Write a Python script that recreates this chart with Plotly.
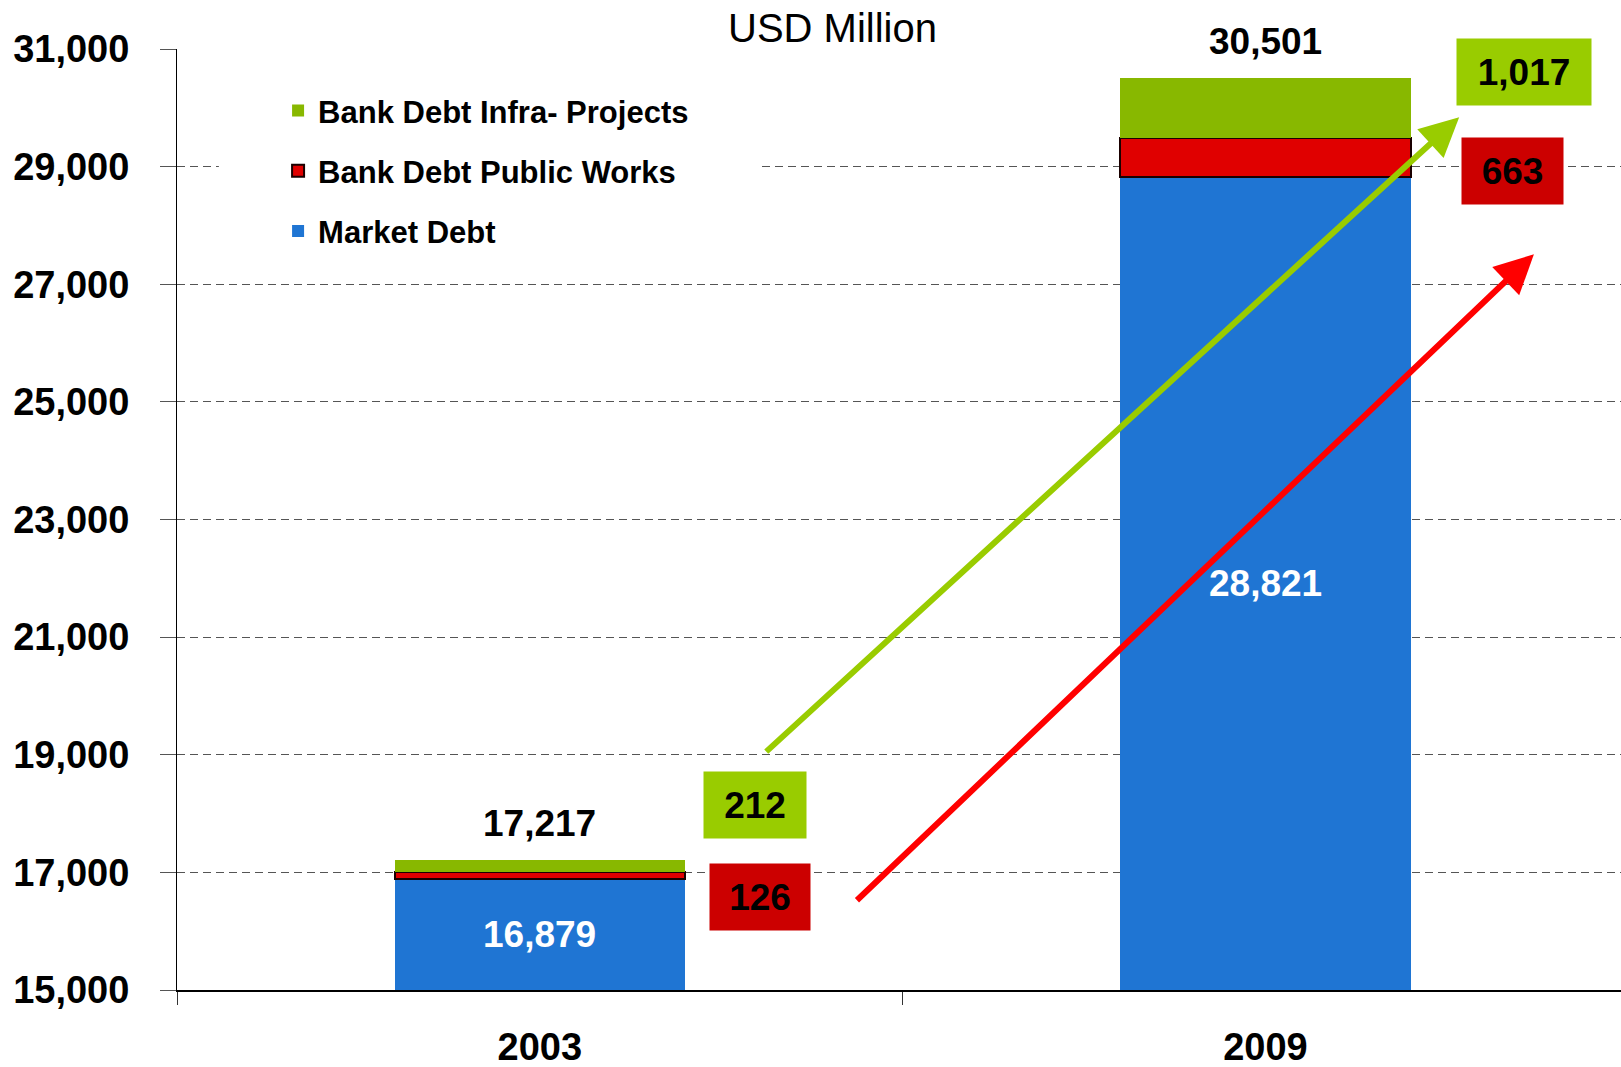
"""Stacked bar chart: debt composition 2003 vs 2009 (USD Million)."""

import plotly.graph_objects as go

# data
years = ['2003', '2009']
market_debt = [16879, 28821]
public_works = [126, 663]
infra_projects = [212, 1017]
totals = [m + p + i for m, p, i in zip(market_debt, public_works, infra_projects)]
y_ticks = list(range(15000, 31001, 2000))

Y_MIN, Y_MAX = 15000, 31000
FONT = 'Liberation Sans, Arial, sans-serif'
BLUE = '#1F75D3'
GREEN = '#88B800'
RED = '#E00000'

fig = go.Figure()

fig.add_trace(go.Bar(
    x=years, y=market_debt, name='Market Debt',
    marker=dict(color=BLUE, line=dict(width=0)),
    legendgroup='m', legendrank=3, width=0.4, hoverinfo='skip'
))
fig.add_trace(go.Bar(
    x=years, y=public_works, name='Bank Debt Public Works',
    marker=dict(color=RED, line=dict(color='#1a0000', width=2)),
    legendgroup='p', legendrank=2, width=0.4, hoverinfo='skip'
))
fig.add_trace(go.Bar(
    x=years, y=infra_projects, name='Bank Debt Infra- Projects',
    marker=dict(color=GREEN, line=dict(width=0)),
    legendgroup='i', legendrank=1, width=0.4, hoverinfo='skip'
))

# totals above the bars
for i, t in enumerate(totals):
    fig.add_annotation(
        x=i, y=t, text=f"{t:,}", showarrow=False,
        yanchor='bottom', yshift=14,
        font=dict(family=FONT, size=37, color='black', weight='bold')
    )

# market debt labels, centred in the visible part of the bar
for i, m in enumerate(market_debt):
    fig.add_annotation(
        x=i, y=(Y_MIN + m) / 2, text=f"{m:,}", showarrow=False,
        font=dict(family=FONT, size=37, color='white', weight='bold')
    )

# growth arrows (tip x, tip y, tail x, tail y)
arrows = [
    (1.267, 29838, 0.31, 19030, '#99CC00'),
    (1.37, 27510, 0.435, 16501, '#FF0000'),
]
for x, y, ax, ay, c in arrows:
    fig.add_annotation(
        x=x, y=y, ax=ax, ay=ay, xref='x', yref='y', axref='x', ayref='y',
        text='', showarrow=True, arrowhead=2, arrowsize=1.3,
        arrowwidth=6, arrowcolor=c, standoff=0
    )

# value boxes next to the bars
box_pos = {
    'infra': [(0.296, 18140), (1.357, 30611)],
    'public': [(0.303, 16577), (1.34, 28929)],
}
box_w = {'infra': [102, 134], 'public': [100, 101]}
for key, vals, bg in [('infra', infra_projects, '#99CC00'), ('public', public_works, '#CC0000')]:
    for i, v in enumerate(vals):
        bx, by = box_pos[key][i]
        fig.add_annotation(
            x=bx, y=by, text=f"{v:,}", showarrow=False,
            bgcolor=bg, width=box_w[key][i], height=66, borderpad=0,
            font=dict(family=FONT, size=37, color='black', weight='bold')
        )

# title
fig.add_annotation(
    x=0.454, y=1.022, xref='paper', yref='paper', text='USD Million',
    showarrow=False, yanchor='middle',
    font=dict(family=FONT, size=40, color='black')
)

# white patch behind the legend (hides the grid line there)
fig.add_shape(
    type='rect', xref='paper', yref='paper',
    x0=0.029, x1=0.405, y0=0.77, y1=0.985,
    fillcolor='white', line=dict(width=0), layer='above'
)

fig.update_layout(
    width=1621, height=1067,
    margin=dict(l=177, r=0, t=49, b=77),
    paper_bgcolor='white', plot_bgcolor='white',
    barmode='stack',
    showlegend=True,
    legend=dict(
        x=0.070, y=0.963, xanchor='left', yanchor='top',
        traceorder='grouped', tracegroupgap=17,
        bgcolor='rgba(0,0,0,0)',
        font=dict(family=FONT, size=31, color='black', weight='bold')
    ),
    xaxis=dict(
        type='category', range=[-0.5, 1.49],
        showline=True, linecolor='black', linewidth=2,
        ticks='outside', tickson='boundaries', ticklen=13, tickcolor='#333',
        ticklabelstandoff=22, showgrid=False,
        tickfont=dict(family=FONT, size=38, color='black', weight='bold')
    ),
    yaxis=dict(
        range=[Y_MIN, Y_MAX], tickvals=y_ticks, tickformat=',d',
        showline=True, linecolor='black', linewidth=1,
        ticks='outside', ticklen=16, tickcolor='#555',
        ticklabelstandoff=23,
        showgrid=True, gridcolor='#555', gridwidth=1, griddash='8px,5px',
        zeroline=False,
        tickfont=dict(family=FONT, size=38, color='black', weight='bold')
    ),
)

# drop the default 8px page margin so the figure fills the window exactly
fig.write_html(
    "out.html",
    config={'displayModeBar': False},
    post_script="document.body.style.margin='0px';"
)
